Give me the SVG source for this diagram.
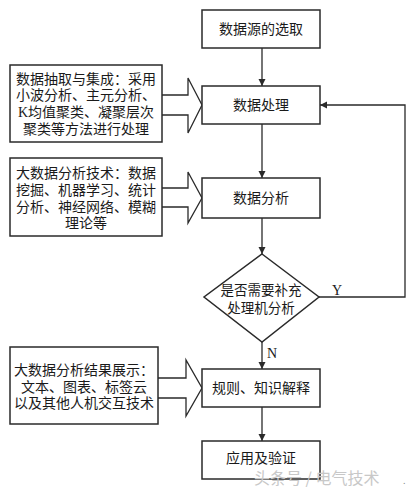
<svg xmlns="http://www.w3.org/2000/svg" width="411" height="488" viewBox="0 0 411 488">
<style>
.box{fill:#fff;stroke:#2a2a2a;stroke-width:1.5}
.blk{fill:#fff;stroke:#2a2a2a;stroke-width:1.3}
.ln{fill:none;stroke:#2a2a2a;stroke-width:1.3}
text{font-family:"Liberation Serif","Noto Sans CJK SC",serif;fill:#1a1a1a}
.t{font-size:14px;text-anchor:middle}
.s{font-size:13.5px;text-anchor:middle}
.wm{font-size:16px;fill:#c8c8c8;font-family:"Noto Sans CJK SC",sans-serif}
</style>
<defs>
<marker id="ah" markerWidth="8" markerHeight="8" refX="7" refY="4" orient="auto" markerUnits="userSpaceOnUse">
<path d="M0,0.5 L7,4 L0,7.5 Z" fill="#2a2a2a"/>
</marker>
</defs>
<rect width="411" height="488" fill="#fff"/>
<g id="connectors">
<line class="ln" x1="262" y1="48" x2="262" y2="86" marker-end="url(#ah)"/>
<line class="ln" x1="262" y1="124" x2="262" y2="178" marker-end="url(#ah)"/>
<line class="ln" x1="262" y1="218" x2="262" y2="254" marker-end="url(#ah)"/>
<line class="ln" x1="262" y1="342" x2="262" y2="369" marker-end="url(#ah)"/>
<line class="ln" x1="262" y1="407" x2="262" y2="441" marker-end="url(#ah)"/>
<polyline class="ln" points="319,297 405,297 405,105 320,105" marker-end="url(#ah)"/>
<text x="332" y="295" style="font-size:14px">Y</text>
<text x="267" y="358" style="font-size:14px">N</text>
<path class="blk" d="M162,95 H188 V78 L202,105 L188,133 V115 H162"/>
<path class="blk" d="M162,188 H188 V172 L202,198 L188,223 V207 H162"/>
<path class="blk" d="M158,378 H186 V360 L202,388 L186,416 V398 H158"/>
</g>
<g id="n1"><rect class="box" x="202" y="10" width="118" height="38"/><text class="t" x="261" y="34">数据源的选取</text></g>
<g id="n2"><rect class="box" x="202" y="86" width="118" height="38"/><text class="t" x="261" y="110">数据处理</text></g>
<g id="n3"><rect class="box" x="202" y="178" width="118" height="40"/><text class="t" x="261" y="203">数据分析</text></g>
<g id="n4"><polygon class="box" points="262,254 319,297 262,342 204,297"/><text class="s" x="261" y="295">是否需要补充</text><text class="s" x="261" y="313">处理机分析</text></g>
<g id="n5"><rect class="box" x="202" y="369" width="118" height="38"/><text class="t" x="261" y="393">规则、知识解释</text></g>
<g id="n6"><rect class="box" x="202" y="441" width="118" height="38"/><text class="t" x="261" y="463">应用及验证</text></g>
<g id="l1"><rect class="box" x="10" y="65" width="152" height="77"/>
<text class="t" x="86" y="84">数据抽取与集成：采用</text>
<text class="t" x="86" y="100">小波分析、主元分析、</text>
<text class="t" x="86" y="117">K均值聚类、凝聚层次</text>
<text class="t" x="86" y="134">聚类等方法进行处理</text></g>
<g id="l2"><rect class="box" x="10" y="158" width="152" height="78"/>
<text class="t" x="86" y="178">大数据分析技术：数据</text>
<text class="t" x="86" y="195">挖掘、机器学习、统计</text>
<text class="t" x="86" y="212">分析、神经网络、模糊</text>
<text class="t" x="86" y="228">理论等</text></g>
<g id="l3"><rect class="box" x="10" y="347" width="148" height="77"/>
<text class="t" x="84" y="375">大数据分析结果展示：</text>
<text class="t" x="84" y="392">文本、图表、标签云</text>
<text class="t" x="84" y="408">以及其他人机交互技术</text></g>
<text class="wm" x="254" y="484">头条号 / 电气技术</text>
<text x="403" y="484" style="font-size:10px;fill:#888">.</text>
</svg>
